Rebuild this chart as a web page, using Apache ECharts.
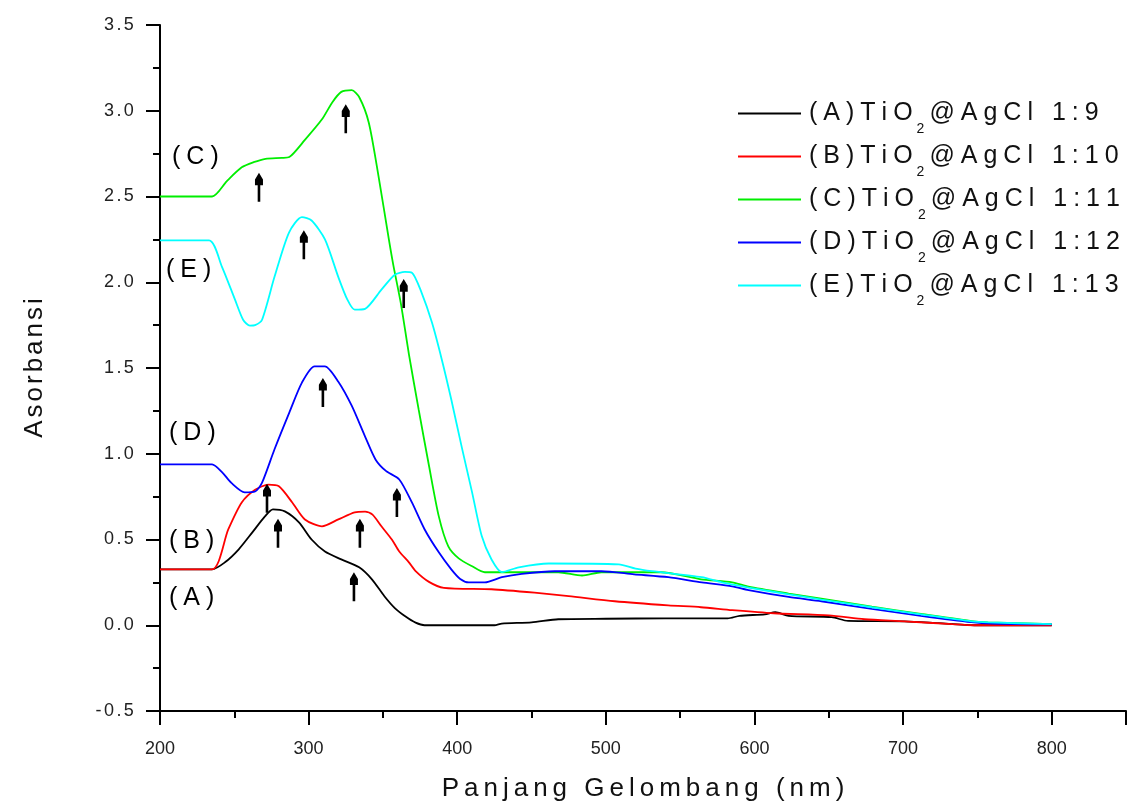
<!DOCTYPE html>
<html>
<head>
<meta charset="utf-8">
<script src="https://cdn.jsdelivr.net/npm/echarts@6/dist/echarts.min.js"></script>
<style>
  html, body { margin: 0; padding: 0; background: #fff; }
  #chart { width: 1129px; height: 807px; }
</style>
</head>
<body>
<div id="chart"></div>
<script>
// ---------- DATA ----------
const seriesNames = [
  '(A)TiO₂@AgCl 1:9',
  '(B)TiO₂@AgCl 1:10',
  '(C)TiO₂@AgCl 1:11',
  '(D)TiO₂@AgCl 1:12',
  '(E)TiO₂@AgCl 1:13'
];
const seriesColors = ['#000000', '#ff0000', '#00ee00', '#0000ff', '#00ffff'];

// [wavelength nm, absorbance]
const dataA = [[200,0.326],[235,0.326],[243.7,0.367],[253,0.443],[262,0.54],[270.6,0.635],[276,0.676],[284,0.664],[293.5,0.60],[302,0.50],[311,0.43],[322,0.384],[334,0.338],[342.6,0.268],[351,0.169],[358,0.10],[365,0.052],[372,0.015],[378,0],[425,0],[430,0.01],[450,0.017],[468,0.035],[500,0.038],[540,0.04],[582,0.04],[590,0.055],[607,0.064],[614,0.076],[623,0.055],[652,0.047],[663,0.025],[701,0.023],[724,0.012],[748,0],[800,0]];
const dataB = [[200,0.326],[235,0.326],[246,0.56],[255,0.716],[264,0.79],[273,0.82],[280,0.81],[289,0.716],[297.5,0.617],[309,0.577],[320,0.617],[331,0.658],[338,0.662],[343,0.645],[349,0.577],[356,0.50],[361,0.43],[367.5,0.367],[372,0.316],[381,0.253],[391,0.218],[423,0.21],[452,0.19],[475,0.17],[506,0.14],[542,0.116],[564,0.105],[585,0.088],[613,0.07],[650,0.058],[674,0.035],[701,0.023],[733,0.006],[748,0],[800,0]];
const dataC = [[200,2.5],[235,2.5],[245,2.59],[255,2.67],[263,2.70],[271,2.72],[282,2.725],[287,2.73],[297.5,2.83],[309,2.95],[316,3.05],[322,3.11],[329,3.12],[334,3.08],[340.5,2.93],[347,2.62],[354,2.25],[357,2.10],[362,1.88],[367.5,1.58],[374,1.26],[381,0.93],[387.6,0.635],[394,0.46],[401,0.39],[410,0.344],[418.6,0.309],[452,0.309],[468,0.309],[484,0.29],[497,0.309],[537,0.309],[564,0.268],[585,0.25],[596,0.225],[623,0.185],[645,0.155],[679,0.108],[712,0.066],[746,0.024],[757,0.017],[800,0.006]];
const dataD = [[200,0.938],[235,0.938],[242,0.89],[248,0.83],[257,0.775],[264,0.78],[268.6,0.83],[277,1.025],[287,1.24],[295.5,1.415],[304,1.51],[311,1.51],[320,1.42],[329,1.28],[338,1.10],[345,0.967],[352,0.90],[361,0.85],[369.5,0.716],[378,0.56],[387.6,0.425],[396,0.326],[402,0.27],[407.8,0.25],[418.6,0.25],[430,0.28],[443.4,0.30],[465.6,0.315],[497,0.315],[519,0.297],[542,0.28],[564.5,0.25],[585,0.227],[596,0.205],[623,0.165],[645,0.14],[679,0.095],[712,0.055],[746,0.018],[760,0.01],[800,0.005]];
const dataE = [[200,2.244],[233,2.244],[241.7,2.09],[250.4,1.90],[256,1.78],[260.5,1.747],[264,1.75],[268.6,1.78],[277,2.03],[286.8,2.29],[295.5,2.38],[302,2.36],[311,2.25],[320,2.03],[326,1.90],[331,1.84],[338,1.845],[349,1.957],[358,2.044],[364.8,2.06],[369.5,2.056],[376,1.94],[383,1.765],[389.6,1.55],[396,1.316],[403,1.04],[410,0.775],[416.5,0.52],[423,0.385],[430,0.31],[441.4,0.338],[461.6,0.36],[508.7,0.355],[520,0.33],[531,0.315],[564.5,0.28],[578,0.25],[596,0.22],[623,0.18],[645,0.15],[679,0.105],[712,0.064],[746,0.023],[757.5,0.017],[800,0.006]];

// peak-marker arrows (centre of arrow, nm / absorbance)
const arrowPoints = [[266.6,2.554],[325,2.953],[296.8,2.219],[364,1.934],[309.6,1.357],[272,0.740],[279.4,0.536],[334.5,0.536],[330.5,0.224],[359.4,0.716]];

const curveLabels = ['(C)', '(E)', '(D)', '(B)', '(A)'];

const xTitle = 'Panjang Gelombang (nm)';
const yTitle = 'Asorbansi';

// ---------- HELPERS ----------
const FONT = 'Liberation Sans, Arial, sans-serif';
function spaced(str, style) {
  return str.split('').map(ch => '{' + style + '|' + ch + '}').join('');
}
function legendText(name) {
  const parts = name.split('₂');
  return spaced(parts[0], 's') + '{sub|2}' + spaced(parts[1], 's');
}

const allData = [dataA, dataB, dataC, dataD, dataE];

const lineSeries = allData.map((d, i) => ({
  name: seriesNames[i],
  type: 'line',
  data: d,
  symbol: 'none',
  showSymbol: false,
  smooth: 0.25,
  lineStyle: { color: seriesColors[i], width: 1.8 },
  itemStyle: { color: seriesColors[i] },
  z: 2 + i
}));

const arrowSeries = {
  name: 'arrows',
  type: 'scatter',
  data: arrowPoints,
  symbol: 'path://M4,0 L8,7 L8,13 L5.3,13 L5.3,30 L2.7,30 L2.7,13 L0,13 L0,7 Z',
  symbolSize: [8, 29],
  itemStyle: { color: '#000', opacity: 1 },
  silent: true,
  z: 10
};

const labelRich = { g: { fontSize: 25, fontFamily: FONT, color: '#222', padding: [0, 3, 0, 3] } };
const labelPos = [
  { x: 169, y: 157 },
  { x: 163, y: 270 },
  { x: 166, y: 433 },
  { x: 166, y: 541 },
  { x: 166, y: 598 }
];

const chart = echarts.init(document.getElementById('chart'), null, { renderer: 'canvas' });
chart.setOption({
  animation: false,
  backgroundColor: '#fff',
  grid: { left: 160, right: 2, top: 25, bottom: 95, containLabel: false },
  legend: {
    data: seriesNames,
    orient: 'vertical',
    left: 737,
    top: 93,
    padding: 0,
    itemGap: 0,
    itemWidth: 63,
    itemHeight: 2,
    selectedMode: false,
    itemStyle: { opacity: 0 },
    formatter: legendText,
    textStyle: {
      rich: {
        s: { fontSize: 25, fontFamily: FONT, color: '#111', lineHeight: 41, padding: [8, 3, 0, 3], verticalAlign: 'top' },
        sub: { fontSize: 14, fontFamily: FONT, color: '#111', lineHeight: 41, padding: [29, 2, 0, 1], verticalAlign: 'top' }
      }
    }
  },
  xAxis: {
    type: 'value',
    min: 200,
    max: 850,
    interval: 100,
    name: spaced(xTitle, 't'),
    nameLocation: 'middle',
    nameGap: 65,
    nameTextStyle: { rich: { t: { fontSize: 26, fontFamily: FONT, color: '#111', padding: [0, 2.5, 0, 2.5] } } },
    axisLine: { onZero: false, lineStyle: { color: '#000', width: 2 } },
    axisTick: { show: true, inside: false, length: 14, lineStyle: { color: '#000', width: 2 } },
    minorTick: { show: true, splitNumber: 2, length: 7, lineStyle: { color: '#000', width: 2 } },
    splitLine: { show: false },
    axisLabel: {
      margin: 29, fontSize: 18, fontFamily: FONT, color: '#222',
      formatter: v => (v > 800 ? '' : String(v))
    }
  },
  yAxis: {
    type: 'value',
    min: -0.5,
    max: 3.5,
    interval: 0.5,
    name: spaced(yTitle, 'y'),
    nameLocation: 'middle',
    nameGap: 112,
    nameRotate: 90,
    nameTextStyle: { rich: { y: { fontSize: 26, fontFamily: FONT, color: '#111', padding: [0, 1.5, 0, 1.5] } } },
    axisLine: { show: true, onZero: false, lineStyle: { color: '#000', width: 2 } },
    axisTick: { show: true, inside: false, length: 14, lineStyle: { color: '#000', width: 2 } },
    minorTick: { show: true, splitNumber: 2, length: 7, lineStyle: { color: '#000', width: 2 } },
    splitLine: { show: false },
    axisLabel: {
      margin: 25,
      formatter: v => spaced(v.toFixed(1), 'n'),
      rich: { n: { fontSize: 18, fontFamily: FONT, color: '#222', padding: [0, 1.2, 0, 1.2] } }
    }
  },
  graphic: curveLabels.map((t, i) => ({
    type: 'text',
    x: labelPos[i].x,
    y: labelPos[i].y,
    silent: true,
    style: {
      text: spaced(t, 'g'),
      rich: labelRich,
      verticalAlign: 'middle',
      align: 'left'
    }
  })),
  series: lineSeries.concat([arrowSeries])
});
</script>
</body>
</html>
